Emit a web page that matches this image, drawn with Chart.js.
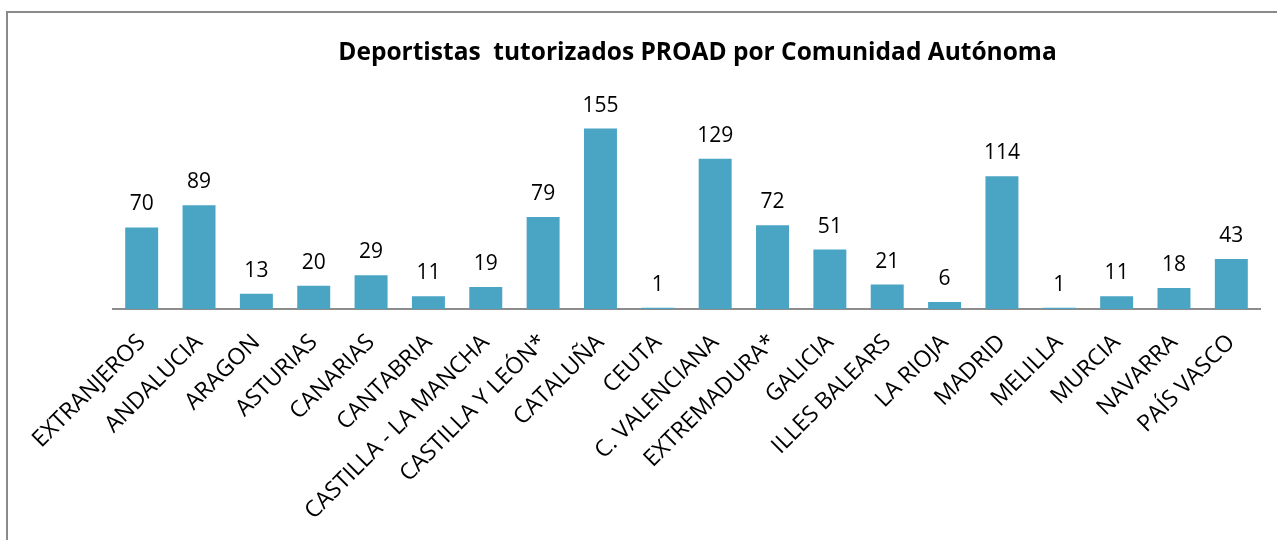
<!DOCTYPE html>
<html>
<head>
<meta charset="utf-8">
<script src="https://cdn.jsdelivr.net/npm/chart.js"></script>
<style>
  html, body { margin: 0; padding: 0; background: #fff; overflow: hidden; }
  #frame {
    position: absolute; left: 6px; top: 11px;
    width: 1402px; height: 600px;
    border: 2px solid #8a8a8a;
  }
  #chart { display: block; }
</style>
</head>
<body>
<div id="frame"><canvas id="chart" width="1402" height="600"></canvas></div>
<script>
const comunidades = [
  "EXTRANJEROS", "ANDALUCIA", "ARAGON", "ASTURIAS", "CANARIAS", "CANTABRIA",
  "CASTILLA - LA MANCHA", "CASTILLA Y LEÓN*", "CATALUÑA", "CEUTA",
  "C. VALENCIANA", "EXTREMADURA*", "GALICIA", "ILLES BALEARS", "LA RIOJA",
  "MADRID", "MELILLA", "MURCIA", "NAVARRA", "PAÍS VASCO"
];
const deportistas = [70, 89, 13, 20, 29, 11, 19, 79, 155, 1, 129, 72, 51, 21, 6, 114, 1, 11, 18, 43];
const titulo = "Deportistas  tutorizados PROAD por Comunidad Autónoma";

const fontFamily = "'Open Sans', 'DejaVu Sans', sans-serif";
const barColor = "#4AA5C5";

// numbers above each bar
const valueLabels = {
  id: "valueLabels",
  afterDatasetsDraw(chart) {
    const ctx = chart.ctx;
    const meta = chart.getDatasetMeta(0);
    ctx.save();
    ctx.font = "21px " + fontFamily;
    ctx.fillStyle = "#000";
    ctx.textAlign = "center";
    ctx.textBaseline = "alphabetic";
    meta.data.forEach((bar, i) => {
      ctx.fillText(String(deportistas[i]), bar.x, bar.y - 17);
    });
    ctx.restore();
  },
};

new Chart(document.getElementById("chart"), {
  type: "bar",
  data: {
    labels: comunidades,
    datasets: [
      {
        data: deportistas,
        backgroundColor: barColor,
        borderWidth: 0,
        categoryPercentage: 1,
        barPercentage: 0.575,
      },
    ],
  },
  options: {
    responsive: false,
    animation: false,
    layout: { padding: { left: 105, right: 128, top: 23, bottom: 0 } },
    plugins: {
      legend: { display: false },
      tooltip: { enabled: false },
      title: {
        display: true,
        text: titulo,
        color: "#000",
        font: { family: fontFamily, size: 24.5, weight: "bold" },
        padding: { top: 2, bottom: 32 },
      },
    },
    scales: {
      x: {
        grid: { display: false, drawTicks: false },
        border: { display: true, color: "#8c8c8c", width: 2 },
        ticks: {
          color: "#000",
          font: { family: fontFamily, size: 23 },
          minRotation: 45,
          maxRotation: 45,
          autoSkip: false,
          padding: 20,
        },
        afterFit: (scale) => { scale.height = 304; },
      },
      y: {
        // hidden axis on the right, only reserves space
        position: "right",
        min: 0,
        max: 180,
        grid: { display: false, drawTicks: false },
        border: { display: false },
        ticks: { display: false },
        afterFit: (scale) => { scale.width = 22; },
      },
    },
  },
  plugins: [valueLabels],
});
</script>
</body>
</html>
